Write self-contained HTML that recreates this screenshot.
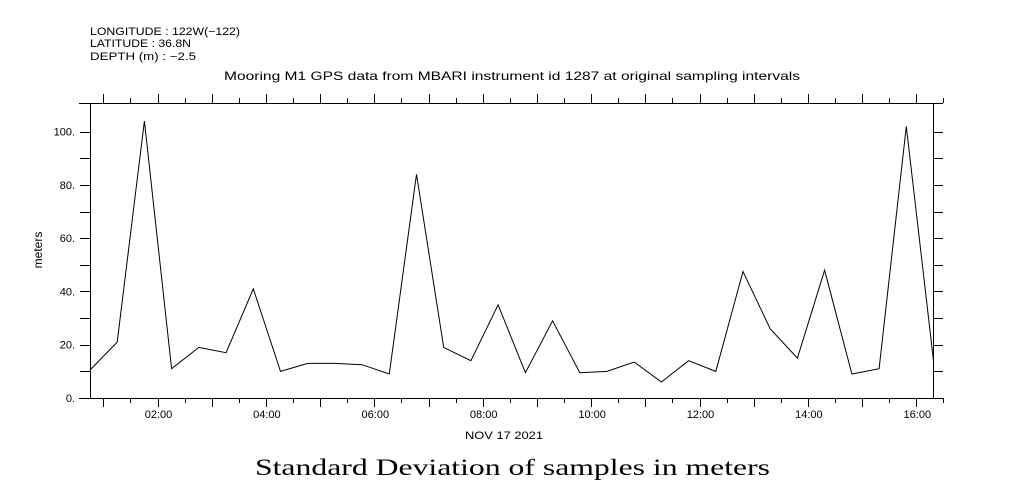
<!DOCTYPE html>
<html><head><meta charset="utf-8"><style>
html,body{margin:0;padding:0;background:#fff;}
svg{display:block;font-family:"Liberation Sans",sans-serif;}
</style></head><body>
<svg id="chart" width="1009" height="504" viewBox="0 0 1009 504" xmlns="http://www.w3.org/2000/svg">
<g font-size="11" fill="#000">
<text x="90" y="35" textLength="150" lengthAdjust="spacingAndGlyphs">LONGITUDE : 122W(−122)</text>
<text x="90" y="47" textLength="101" lengthAdjust="spacingAndGlyphs">LATITUDE : 36.8N</text>
<text x="90" y="60" textLength="106" lengthAdjust="spacingAndGlyphs">DEPTH (m) : −2.5</text>
</g>
<text x="224" y="80" textLength="576" lengthAdjust="spacingAndGlyphs" font-size="12">Mooring M1 GPS data from MBARI instrument id 1287 at original sampling intervals</text>
<g id="frame" stroke="#000" stroke-width="1">
<line x1="79" y1="103.5" x2="943" y2="103.5"/>
<line x1="79" y1="398.5" x2="943" y2="398.5"/>
<line x1="90.5" y1="103" x2="90.5" y2="399"/>
<line x1="933.5" y1="103" x2="933.5" y2="399"/>
</g>
<g id="axes"></g>
<text x="42" y="250" text-anchor="middle" font-size="12" transform="rotate(-90 42 250)">meters</text>
<text x="465" y="439" textLength="78" lengthAdjust="spacingAndGlyphs" font-size="11">NOV 17 2021</text>
<text x="255" y="475" textLength="515" lengthAdjust="spacingAndGlyphs" font-size="23" font-family="'Liberation Serif',serif">Standard Deviation of samples in meters</text>
<path id="line" fill="none" stroke="#000" stroke-width="1"/>
</svg>
<script>
const startHour = 0.755;
const stepHours = 0.502;
const values = [10.5,21,104,11,19,17,41,10,13,13,12.5,9,84,19,14,35,9.5,29,9.5,10,13.5,6,14,10,47.5,26,15,48,9,11,102,14];
const yTicks = [0,20,40,60,80,100];
const yTickLabels = ["0.","20.","40.","60.","80.","100."];
const xTickHours = [2,4,6,8,10,12,14,16];
const xTickLabels = ["02:00","04:00","06:00","08:00","10:00","12:00","14:00","16:00"];

function xs(h){return 157.5+(h-2)*54.2;}
function ys(v){return 398-v*2.663;}
const NS="http://www.w3.org/2000/svg";
const ax=document.getElementById('axes');
function ln(x1,y1,x2,y2,name){const l=document.createElementNS(NS,'line');
l.setAttribute('x1',x1);l.setAttribute('y1',y1);l.setAttribute('x2',x2);l.setAttribute('y2',y2);
l.setAttribute('stroke','#000');


ax.appendChild(l);}
function tx(x,y,s,anchor,name){const t=document.createElementNS(NS,'text');
t.setAttribute('x',x);t.setAttribute('y',y);t.setAttribute('text-anchor',anchor);t.setAttribute('font-size','11');t.textContent=s;


ax.appendChild(t);}
for(let v=10; v<=100; v+=10){const y=Math.round(ys(v))+0.5;
ln(80,y,90,y,'y-tick');ln(933,y,943,y,'y-tick-right');}
yTicks.forEach((v,i)=>tx(75,ys(v)+4,yTickLabels[i],'end','y-tick-label'));
for(let h=1; h<=16.5; h+=0.5){const x=Math.round(xs(h))+0.5;const len=(h%1===0)?9:5;
ln(x,398,x,398+len,'x-tick');ln(x,103-len,x,103,'x-tick-top');}
xTickHours.forEach((h,i)=>tx(xs(h)+1,418,xTickLabels[i],'middle','x-tick-label'));
let d='';
values.forEach((v,i)=>{const x=xs(startHour+i*stepHours), y=ys(v);d+=(i?'L':'M')+x.toFixed(1)+' '+y.toFixed(1);});
document.getElementById('line').setAttribute('d',d);
</script>
</body></html>
